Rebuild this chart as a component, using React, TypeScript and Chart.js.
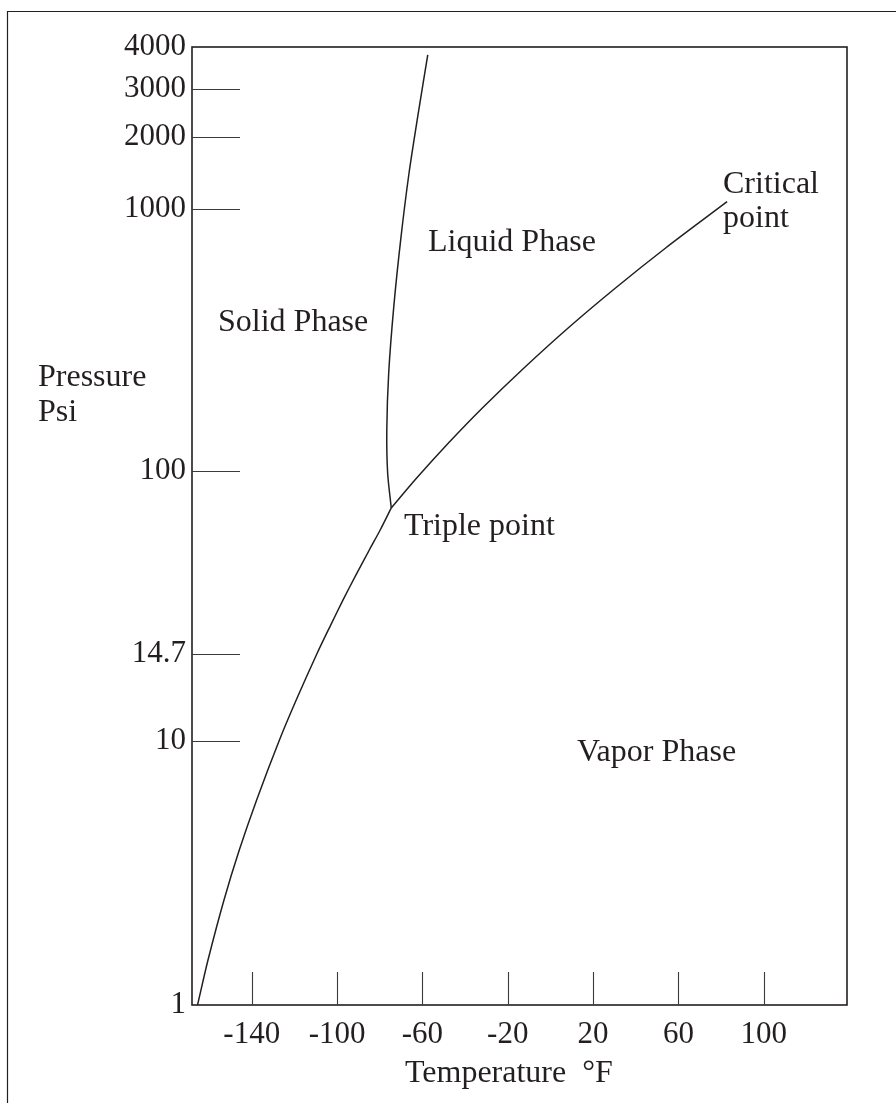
import React, { useEffect, useRef } from 'react';
import { Chart, registerables, LinearScale } from 'chart.js';

// ---- axis ticks ----
const tempTicks = [-140, -100, -60, -20, 20, 60, 100];
const pressureTicks = [1, 10, 14.7, 100, 1000, 2000, 3000, 4000];
// schematic pressure axis: share of the axis height at which each tick sits
const pressureTickShare = [0, 0.2756, 0.3664, 0.5574, 0.8309, 0.9061, 0.9562, 1];

// ---- curves (temperature °F, pressure psi) ----
const sublimationTemp = [-165.4, -160.5, -153.0, -145.8, -137.7, -127.2, -119.1, -109.5, -103.0, -97.2, -91.2, -84.9, -79.8, -74.6];
const sublimationPsi = [1, 1.48, 2.5, 3.87, 5.98, 10, 12, 14.7, 19.9, 25.9, 33.6, 43.7, 53.9, 67.9];

const meltingTemp = [-74.6, -76.3, -76.7, -75.8, -73.4, -70.2, -66.4, -61.7, -57.5];
const meltingPsi = [67.9, 97.9, 143, 237, 426, 761, 1387, 2512, 3787];

const vaporTemp = [-74.6, -62.7, -47.8, -31.9, -12.4, 8.3, 30.5, 54.0, 82.8];
const vaporPsi = [67.9, 92.9, 127.9, 174, 247.3, 351.5, 499.5, 709.9, 1073];

// ---- text ----
const labels = [
  { text: 'Solid Phase', x: 218, y: 331 },
  { text: 'Liquid Phase', x: 428, y: 251 },
  { text: 'Triple point', x: 404, y: 535 },
  { text: 'Critical', x: 723, y: 193 },
  { text: 'point', x: 723, y: 227 },
  { text: 'Vapor Phase', x: 577, y: 761 },
  { text: 'Pressure', x: 38, y: 386 },
  { text: 'Psi', x: 38, y: 421 },
  { text: 'Temperature  \u00B0F', x: 405, y: 1082 },
];

const INK = '#231f20';
const FONT = "'Liberation Serif', 'Times New Roman', serif";

function psiToShare(v: number): number {
  const lv = Math.log10(Math.max(v, 1e-9));
  const n = pressureTicks.length;
  for (let i = 0; i < n - 1; i++) {
    const a = Math.log10(pressureTicks[i]);
    const b = Math.log10(pressureTicks[i + 1]);
    if (lv <= b || i === n - 2) {
      return pressureTickShare[i] + ((lv - a) / (b - a)) * (pressureTickShare[i + 1] - pressureTickShare[i]);
    }
  }
  return 1;
}

function shareToPsi(s: number): number {
  const n = pressureTicks.length;
  for (let i = 0; i < n - 1; i++) {
    if (s <= pressureTickShare[i + 1] || i === n - 2) {
      const a = Math.log10(pressureTicks[i]);
      const b = Math.log10(pressureTicks[i + 1]);
      const f = (s - pressureTickShare[i]) / (pressureTickShare[i + 1] - pressureTickShare[i]);
      return Math.pow(10, a + f * (b - a));
    }
  }
  return pressureTicks[n - 1];
}

class PressureScale extends LinearScale {
  static id = 'pressureSchematic';
  determineDataLimits() {
    (this as any).min = pressureTicks[0];
    (this as any).max = pressureTicks[pressureTicks.length - 1];
  }
  buildTicks() {
    return pressureTicks.map((value) => ({ value }));
  }
  getPixelForValue(value: number) {
    return (this as any).getPixelForDecimal(psiToShare(value));
  }
  getValueForPixel(pixel: number) {
    return shareToPsi((this as any).getDecimalForPixel(pixel));
  }
}

Chart.register(...registerables, PressureScale as any);

const framePlugin = {
  id: 'phaseFrame',
  afterDraw(chart: any) {
    const { ctx, chartArea: a, scales } = chart;
    ctx.save();
    ctx.strokeStyle = INK;
    // outer frame
    ctx.lineWidth = 1.2;
    ctx.beginPath();
    ctx.moveTo(7.5, chart.height);
    ctx.lineTo(7.5, 11.5);
    ctx.lineTo(chart.width, 11.5);
    ctx.stroke();
    // plot frame
    ctx.lineWidth = 1.6;
    ctx.strokeRect(a.left, a.top, a.right - a.left, a.bottom - a.top);
    // inward tick marks
    ctx.lineWidth = 1.1;
    ctx.strokeStyle = '#3a3a3a';
    ctx.beginPath();
    const yt = scales.y.ticks;
    yt.forEach((t: any, i: number) => {
      if (i === 0 || i === yt.length - 1) return;
      const py = Math.round(scales.y.getPixelForValue(t.value)) + 0.5;
      ctx.moveTo(a.left, py);
      ctx.lineTo(a.left + 48, py);
    });
    scales.x.ticks.forEach((t: any) => {
      const px = Math.round(scales.x.getPixelForValue(t.value)) + 0.5;
      ctx.moveTo(px, a.bottom);
      ctx.lineTo(px, a.bottom - 33);
    });
    ctx.stroke();
    // text
    ctx.fillStyle = INK;
    ctx.font = `32px ${FONT}`;
    ctx.textAlign = 'left';
    ctx.textBaseline = 'alphabetic';
    labels.forEach((l) => ctx.fillText(l.text, l.x, l.y));
    ctx.restore();
  },
};

function curve(temps: number[], psi: number[]) {
  return {
    data: temps.map((t, i) => ({ x: t, y: psi[i] })),
    borderColor: INK,
    borderWidth: 1.5,
    pointRadius: 0,
    tension: 0.3,
    fill: false,
  };
}

export default function App() {
  const ref = useRef<HTMLCanvasElement | null>(null);
  useEffect(() => {
    if (!ref.current) return;
    Chart.defaults.font.family = FONT;
    const chart = new Chart(ref.current, {
      type: 'line',
      data: {
        datasets: [
          curve(sublimationTemp, sublimationPsi),
          curve(meltingTemp, meltingPsi),
          curve(vaporTemp, vaporPsi),
        ] as any,
      },
      options: {
        responsive: false,
        animation: false,
        devicePixelRatio: 1,
        layout: { padding: { left: 0, top: 47, right: 49, bottom: 0 } },
        plugins: { legend: { display: false }, tooltip: { enabled: false } },
        scales: {
          x: {
            type: 'linear',
            position: 'bottom',
            min: -168,
            max: 139,
            grid: { display: false, drawTicks: false },
            border: { display: false },
            ticks: {
              autoSkip: false,
              padding: 11,
              color: INK,
              font: { size: 31, family: FONT },
              callback: (v: any) => String(v),
            },
            afterBuildTicks: (s: any) => {
              s.ticks = tempTicks.map((value) => ({ value }));
            },
            afterFit: (s: any) => {
              s.height = 98;
            },
          },
          y: {
            type: 'pressureSchematic',
            position: 'left',
            grid: { display: false, drawTicks: false },
            border: { display: false },
            ticks: {
              autoSkip: false,
              padding: 6,
              color: INK,
              font: { size: 31, family: FONT },
              callback: (v: any) => String(v),
            },
            afterFit: (s: any) => {
              s.width = 192;
            },
          },
        } as any,
      },
      plugins: [framePlugin],
    } as any);
    return () => chart.destroy();
  }, []);
  return (
    <div style={{ position: 'absolute', left: 0, top: 0, width: 896, height: 1103, background: '#fff' }}>
      <canvas ref={ref} width={896} height={1103} style={{ display: 'block', width: 896, height: 1103 }} />
    </div>
  );
}
